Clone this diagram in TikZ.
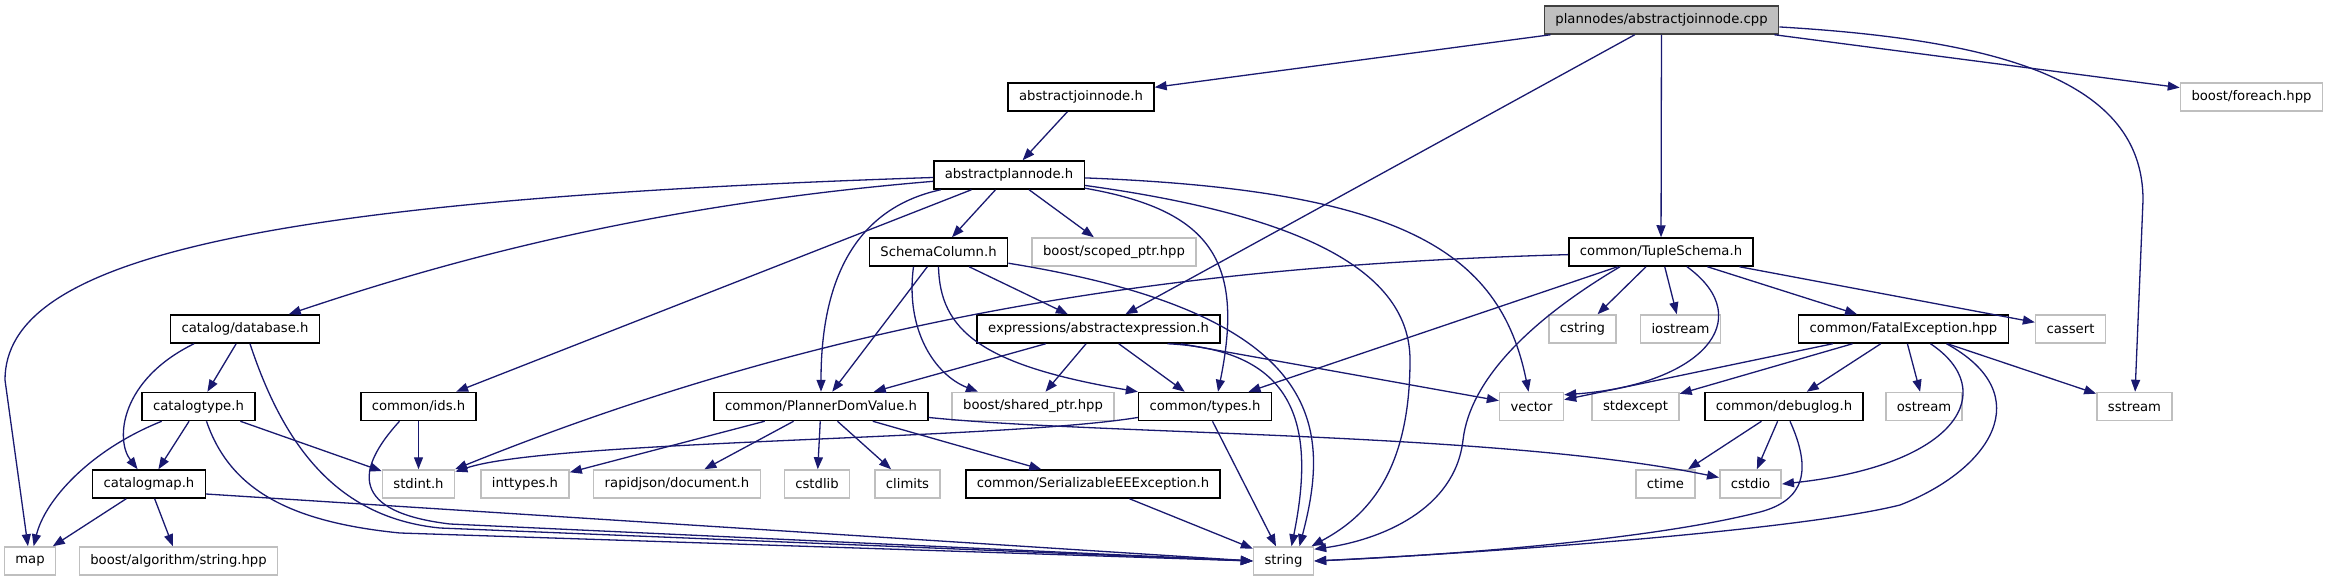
\documentclass[tikz,border=0pt]{standalone}
\usepackage{fontspec}
\setmainfont{DejaVu Sans}
\usetikzlibrary{arrows.meta}
\definecolor{edgeblue}{HTML}{191970}
\definecolor{extgray}{HTML}{BFBFBF}
\definecolor{srcgray}{HTML}{BFBFBF}
\definecolor{srcline}{HTML}{404040}

\begin{document}
\begin{tikzpicture}[x=1pt, y=-1pt, font=\fontsize{13.2}{15}\selectfont,
  incfile/.style={draw=black, line width=1.5pt, fill=white, minimum height=28pt,
                  inner xsep=11pt, inner ysep=0pt},
  sysfile/.style={incfile, draw=extgray},
  srcfile/.style={incfile, draw=srcline, fill=srcgray},
  dep/.style={draw=edgeblue, line width=1.3pt, -{Triangle[length=12pt,width=9pt]}}]

  % Row y centres (px, downward):
  %  0: 20   1: 97   2: 175   3: 252
  %  4: 329  5: 406.5  6: 484  7: 561

  \useasboundingbox (0,0) rectangle (2328,581);
  \fill[white] (0,0) rectangle (2328,581);

  % Source file
  \node[srcfile] (root) at (1661.5, 20) {plannodes/abstractjoinnode.cpp};

  % Row 1
  \node[incfile] (ajn)     at (1081,   97) {abstractjoinnode.h};
  \node[sysfile] (foreach) at (2251.5, 97) {boost/foreach.hpp};

  % Row 2
  \node[incfile] (apn) at (1009, 175) {abstractplannode.h};

  % Row 3
  \node[incfile] (sc)     at ( 938.5, 252) {SchemaColumn.h};
  \node[sysfile] (scoped) at (1114,   252) {boost/scoped\_ptr.hpp};
  \node[incfile] (tuple)  at (1661,   252) {common/TupleSchema.h};

  % Row 4
  \node[incfile] (db)       at ( 245,   329) {catalog/database.h};
  \node[incfile] (aexpr)    at (1098.5, 329) {expressions/abstractexpression.h};
  \node[sysfile] (cstring)  at (1582.5, 329) {cstring};
  \node[sysfile] (iostream) at (1680.5, 329) {iostream};
  \node[incfile] (fatal)    at (1903.5, 329) {common/FatalException.hpp};
  \node[sysfile] (cassert)  at (2070.5, 329) {cassert};

  % Row 5
  \node[incfile] (ctype)     at ( 198.5, 406.5) {catalogtype.h};
  \node[incfile] (ids)       at ( 418.5, 406.5) {common/ids.h};
  \node[incfile] (pdv)       at ( 821,   406.5) {common/PlannerDomValue.h};
  \node[sysfile] (shared)    at (1033,   406.5) {boost/shared\_ptr.hpp};
  \node[incfile] (types)     at (1205,   406.5) {common/types.h};
  \node[sysfile] (vector)    at (1531.5, 406.5) {vector};
  \node[sysfile] (stdexcept) at (1635.5, 406.5) {stdexcept};
  \node[incfile] (debuglog)  at (1784,   406.5) {common/debuglog.h};
  \node[sysfile] (ostream)   at (1924,   406.5) {ostream};
  \node[sysfile] (sstream)   at (2134.5, 406.5) {sstream};

  % Row 6
  \node[incfile] (cmap)      at ( 149,   484) {catalogmap.h};
  \node[sysfile] (stdint)    at ( 418.5, 484) {stdint.h};
  \node[sysfile] (inttypes)  at ( 525,   484) {inttypes.h};
  \node[sysfile] (rapidjson) at ( 677,   484) {rapidjson/document.h};
  \node[sysfile] (cstdlib)   at ( 817,   484) {cstdlib};
  \node[sysfile] (climits)   at ( 907.5, 484) {climits};
  \node[incfile] (seee)      at (1093,   484) {common/SerializableEEException.h};
  \node[sysfile] (ctime)     at (1665.5, 484) {ctime};
  \node[sysfile] (cstdio)    at (1750.5, 484) {cstdio};

  % Row 7
  \node[sysfile] (map)    at (  30,   561) {map};
  \node[sysfile] (bas)    at ( 178.5, 561) {boost/algorithm/string.hpp};
  \node[sysfile] (string) at (1283.5, 561) {string};

  % Straight includes
  \foreach \a/\b in {root/ajn, root/aexpr, root/tuple, root/foreach,
                     ajn/apn, apn/ids, apn/sc, apn/scoped,
                     sc/pdv, sc/aexpr, db/ctype, ctype/cmap, ctype/stdint,
                     cmap/map, cmap/bas, ids/stdint,
                     pdv/inttypes, pdv/rapidjson, pdv/cstdlib, pdv/climits, pdv/seee,
                     aexpr/pdv, aexpr/shared, aexpr/types, aexpr/vector,
                     types/string, seee/string,
                     tuple/cstring, tuple/iostream, tuple/types, tuple/fatal, tuple/cassert,
                     fatal/vector, fatal/stdexcept, fatal/debuglog, fatal/ostream, fatal/sstream,
                     debuglog/ctime, debuglog/cstdio} {
    \draw[dep] (\a) -- (\b);
  }

  % Curved includes
  \draw[dep] (root) .. controls (2000,40) and (2143,80) .. (2143,200) -- (sstream);
  \draw[dep] (apn) .. controls (250,200) and (5,260) .. (5,380) -- (map);
  \draw[dep] (apn) .. controls (650,205) and (450,260) .. (db);
  \draw[dep] (apn) .. controls (870,205) and (821,260) .. (pdv);
  \draw[dep] (apn) .. controls (1210,210) and (1245,260) .. ([xshift=13pt]types.north);
  \draw[dep] (apn) .. controls (1300,215) and (1410,270) .. (1410,360)
                   .. controls (1410,480) and (1360,520) .. ([xshift=28pt]string.north);
  \draw[dep] (apn) .. controls (1400,190) and (1500,250) .. (vector);

  \draw[dep] ([xshift=-25pt]sc.south) .. controls (905,330) and (935,375) .. ([xshift=-55pt]shared.north);
  \draw[dep] (sc.south) .. controls (940,330) and (980,365) .. (types.north west);
  \draw[dep] (sc) .. controls (1330,315) and (1330,430) .. ([xshift=16pt]string.north);
  \draw[dep] ([xshift=69pt]aexpr.south) .. controls (1300,350) and (1315,430) .. ([xshift=8pt]string.north);

  \draw[dep] ([xshift=-41pt]tuple.south) .. controls (1530,320) and (1470,380) .. (1463,440)
             .. controls (1455,510) and (1380,540) .. ([yshift=-3pt]string.north east);
  \draw[dep] ([xshift=26pt]tuple.south) .. controls (1760,320) and (1700,385) .. ([yshift=-3pt]vector.north east);
  \draw[dep] (tuple) .. controls (1200,265) and (850,310) .. (stdint);
  \draw[dep] (types) .. controls (1000,440) and (550,440) .. (stdint);
  \draw[dep] (pdv) .. controls (1100,435) and (1500,432) .. (cstdio);

  \draw[dep] ([xshift=27pt]fatal.south) .. controls (2000,390) and (1960,465) .. (cstdio.east);
  \draw[dep] ([xshift=43pt]fatal.south) .. controls (2040,395) and (1990,470) .. (1900,505)
             .. controls (1800,530) and (1500,552) .. (string.east);
  \draw[dep] ([xshift=6pt]debuglog.south) .. controls (1812,470) and (1805,500) .. (1760,512)
             .. controls (1650,540) and (1450,555) .. (string.east);

  \draw[dep] ([xshift=-51pt]db.south) .. controls (120,380) and (115,440) .. (cmap);
  \draw[dep] ([xshift=5pt]db.south) .. controls (285,450) and (340,518) .. (440,528) -- (string.west);
  \draw[dep] (ctype) .. controls (90,450) and (45,500) .. (map);
  \draw[dep] ([xshift=8pt]ctype.south) .. controls (230,490) and (290,522) .. (400,533) -- (string.west);
  \draw[dep] ([xshift=-19pt]ids.south) .. controls (355,470) and (350,512) .. (450,524) -- (string.west);
  \draw[dep] ([yshift=-10pt]cmap.east) -- (string.west);

\end{tikzpicture}
\end{document}
